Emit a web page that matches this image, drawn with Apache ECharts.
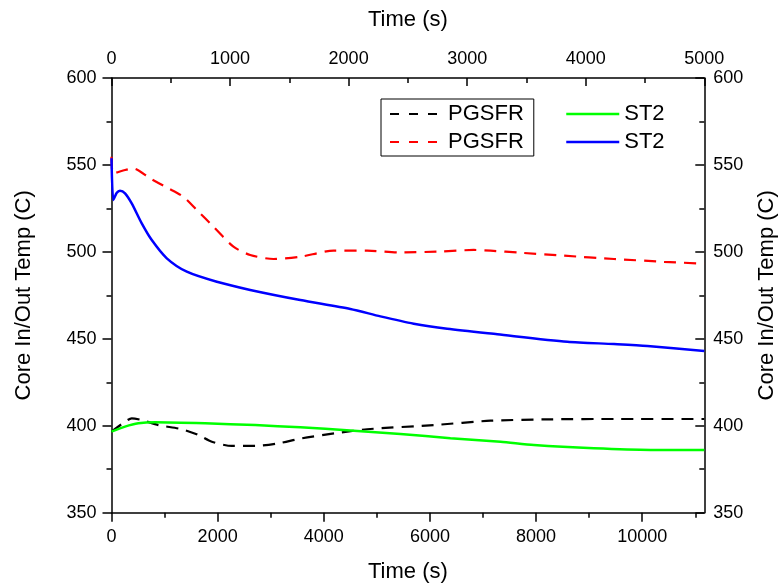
<!DOCTYPE html>
<html><head><meta charset="utf-8">
<script src="https://cdn.jsdelivr.net/npm/echarts@6/dist/echarts.min.js"></script>
<style>html,body{margin:0;padding:0;background:#fff}#c{width:778px;height:584px}</style>
</head><body><div id="c"></div>
<script>
// ---- data ----
const tPgsfrIn  = [0, 255, 381, 570, 883, 1325, 1638, 1891, 2268, 2708, 3148, 3589, 4200, 4816, 6072, 7142, 8274, 9500, 10979, 11170];
const vPgsfrIn  = [396.6, 402.3, 404.3, 403.3, 400.4, 398.0, 394.7, 390.8, 388.4, 388.4, 389.9, 392.8, 395.6, 398.0, 400.4, 402.9, 403.7, 403.9, 403.9, 403.9];
const tPgsfrOut = [0, 34, 255, 411, 726, 1042, 1355, 1608, 1921, 2298, 2614, 3053, 3557, 4185, 4816, 5444, 6200, 6827, 7142, 7708, 8525, 9469, 10413, 11170];
const vPgsfrOut = [554.7, 545.2, 547.1, 548.0, 542.3, 537.0, 531.7, 524.1, 514.5, 503.0, 498.2, 495.9, 497.2, 500.7, 500.7, 499.7, 500.2, 501.1, 500.7, 499.5, 497.8, 495.9, 494.3, 493.2];
const tSt2In    = [0, 255, 506, 821, 1764, 2708, 3557, 4500, 5444, 6387, 7331, 7959, 9092, 10161, 11170];
const vSt2In    = [396.6, 399.5, 401.4, 402.0, 401.4, 400.4, 399.1, 397.3, 395.3, 392.8, 390.8, 388.9, 387.0, 386.1, 386.1];
const tSt2Out   = [0, 34, 100, 160, 255, 381, 570, 759, 1042, 1419, 1985, 2614, 3557, 4500, 5067, 5695, 6325, 7269, 8590, 9469, 10099, 11170];
const vSt2Out   = [553.8, 529.8, 534.0, 535.2, 533.7, 527.9, 516.4, 506.8, 496.3, 488.6, 482.8, 478.1, 472.3, 467.2, 462.9, 458.7, 455.8, 452.6, 448.3, 447.0, 445.9, 443.0];

const bottomMajorTicks = [0, 2000, 4000, 6000, 8000, 10000];
const bottomMinorTicks = [1000, 3000, 5000, 7000, 9000, 11000];
const topRange = [0, 5000, 1000];
const yRange = [350, 600, 50];
const bottomMax = 11170;

const FONT = 'Liberation Sans, Arial, sans-serif';
const zip = (t, v) => t.map((x, i) => [x, v[i]]);
const plain = v => String(v);

const axisLineStyle = { show: true, onZero: false, lineStyle: { color: '#000', width: 1.5 } };
const labelStyle = { color: '#000', fontSize: 18, fontFamily: FONT, formatter: plain };
const nameStyle = { color: '#000', fontSize: 22, fontFamily: FONT };
const legendCommon = {
  top: 99, orient: 'vertical', padding: [4, 10, 3, 8], itemGap: 6,
  itemWidth: 53, itemHeight: 14,
  itemStyle: { opacity: 0, borderWidth: 0 },
  textStyle: { color: '#000', fontSize: 22, fontFamily: FONT },
  formatter: n => n.split(' ')[0]
};

const chart = echarts.init(document.getElementById('c'), null, { renderer: 'canvas' });
chart.setOption({
  animation: false,
  backgroundColor: '#fff',
  grid: { left: 111.5, right: 73.7, top: 78, bottom: 71.3, outerBoundsMode: 'none', containLabel: false },
  legend: [
    Object.assign({}, legendCommon, {
      left: 381, borderColor: '#000', borderWidth: 1, borderRadius: 0,
      data: [
        { name: 'PGSFR inlet', lineStyle: { type: [9, 10], width: 2 } },
        { name: 'PGSFR outlet', lineStyle: { type: [9, 10], width: 2 } }
      ]
    }),
    Object.assign({}, legendCommon, {
      left: 557,
      data: [
        { name: 'ST2 inlet', lineStyle: { width: 2.5 } },
        { name: 'ST2 outlet', lineStyle: { width: 2.5 } }
      ]
    })
  ],
  xAxis: [
    {
      type: 'value', position: 'bottom', min: 0, max: bottomMax, interval: 2000,
      name: 'Time (s)', nameLocation: 'middle', nameGap: 48, nameTextStyle: nameStyle,
      axisLine: axisLineStyle,
      axisTick: { show: true, inside: false, length: 9, customValues: bottomMajorTicks, lineStyle: { color: '#000', width: 1.5 } },
      axisLabel: Object.assign({ margin: 15, customValues: bottomMajorTicks, hideOverlap: false }, labelStyle),
      splitLine: { show: false }
    },
    {
      type: 'value', position: 'top', min: topRange[0], max: topRange[1], interval: topRange[2],
      name: 'Time (s)', nameLocation: 'middle', nameGap: 47, nameTextStyle: nameStyle,
      axisLine: axisLineStyle,
      axisTick: { show: true, inside: true, length: 8, lineStyle: { color: '#000', width: 1.5 } },
      minorTick: { show: true, splitNumber: 2, length: 5, lineStyle: { color: '#000', width: 1.5 } },
      axisLabel: Object.assign({ margin: 10 }, labelStyle),
      splitLine: { show: false }
    },
    {
      type: 'value', position: 'bottom', min: 0, max: bottomMax,
      axisLine: { show: false, onZero: false },
      axisTick: { show: true, inside: false, length: 5, customValues: bottomMinorTicks, lineStyle: { color: '#000', width: 1.5 } },
      axisLabel: { show: false },
      splitLine: { show: false }
    }
  ],
  yAxis: [
    {
      type: 'value', position: 'left', min: yRange[0], max: yRange[1], interval: yRange[2],
      name: 'Core In/Out Temp (C)', nameLocation: 'middle', nameGap: 77, nameRotate: 90, nameTextStyle: nameStyle,
      axisLine: axisLineStyle,
      axisTick: { show: true, inside: false, length: 9, lineStyle: { color: '#000', width: 1.5 } },
      minorTick: { show: true, splitNumber: 2, length: 5, lineStyle: { color: '#000', width: 1.5 } },
      axisLabel: Object.assign({ margin: 15 }, labelStyle),
      splitLine: { show: false }
    },
    {
      type: 'value', position: 'right', min: yRange[0], max: yRange[1], interval: yRange[2],
      name: 'Core In/Out Temp (C)', nameLocation: 'middle', nameGap: 52, nameRotate: 90, nameTextStyle: nameStyle,
      axisLine: axisLineStyle,
      axisTick: { show: true, inside: true, length: 9, lineStyle: { color: '#000', width: 1.5 } },
      minorTick: { show: true, splitNumber: 2, length: 5, lineStyle: { color: '#000', width: 1.5 } },
      axisLabel: Object.assign({ margin: 9 }, labelStyle),
      splitLine: { show: false }
    }
  ],
  series: [
    { name: 'PGSFR inlet', type: 'line', xAxisIndex: 0, yAxisIndex: 0, data: zip(tPgsfrIn, vPgsfrIn),
      showSymbol: false, symbol: 'none', smooth: 0.25, color: '#000000',
      lineStyle: { color: '#000000', width: 2.2, type: [12, 8] } },
    { name: 'PGSFR outlet', type: 'line', xAxisIndex: 0, yAxisIndex: 0, data: zip(tPgsfrOut, vPgsfrOut),
      showSymbol: false, symbol: 'none', smooth: 0.25, color: '#ff0000',
      lineStyle: { color: '#ff0000', width: 2.2, type: [12, 8] } },
    { name: 'ST2 inlet', type: 'line', xAxisIndex: 0, yAxisIndex: 0, data: zip(tSt2In, vSt2In),
      showSymbol: false, symbol: 'none', smooth: 0.25, color: '#00ff00',
      lineStyle: { color: '#00ff00', width: 2.5 } },
    { name: 'ST2 outlet', type: 'line', xAxisIndex: 0, yAxisIndex: 0, data: zip(tSt2Out, vSt2Out),
      showSymbol: false, symbol: 'none', smooth: 0.25, color: '#0000ff',
      lineStyle: { color: '#0000ff', width: 2.5 } }
  ]
});
</script>
</body></html>
